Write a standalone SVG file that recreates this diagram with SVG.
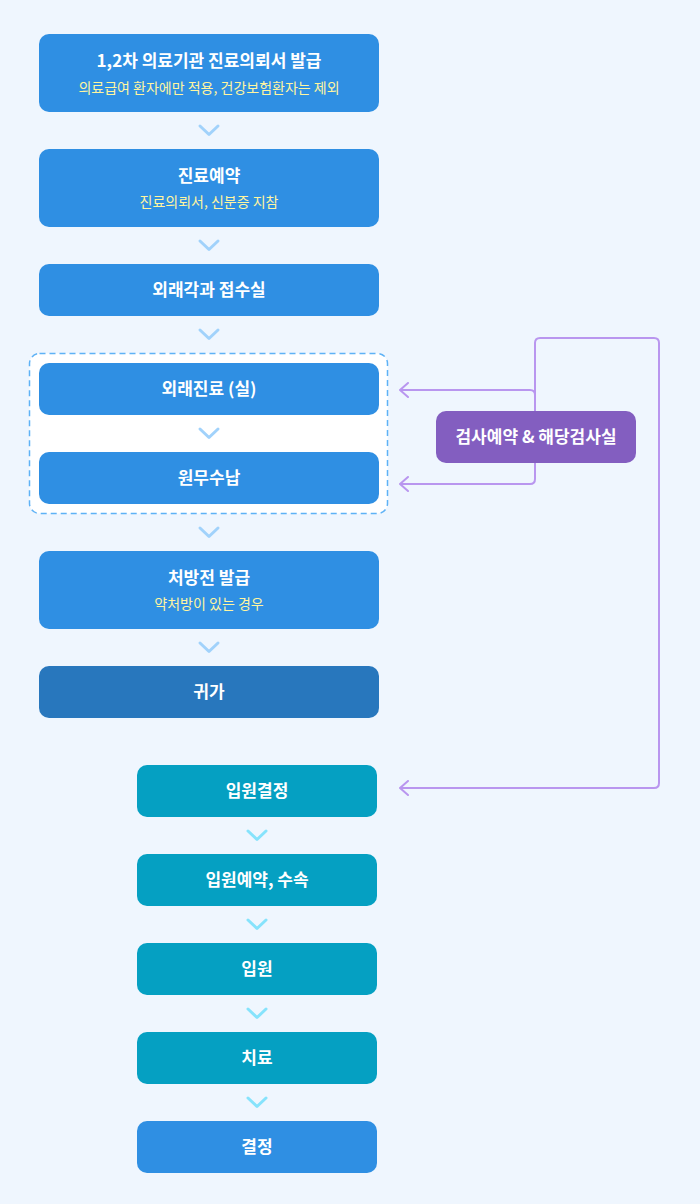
<svg xmlns="http://www.w3.org/2000/svg" width="700" height="1204" viewBox="0 0 700 1204">
<defs>
<style>
.t{font-family:"Noto Sans CJK KR","Noto Sans",sans-serif;font-size:17px;font-weight:700;fill:#ffffff;text-anchor:middle}
.s{font-family:"Noto Sans CJK KR","Noto Sans",sans-serif;font-size:14px;font-weight:400;fill:#fff5a0;text-anchor:middle}
.b{fill:#2f8fe3}
.d{fill:#2877bd}
.c{fill:#05a0c2}
.chb{fill:none;stroke:#a1d2fb;stroke-width:3;stroke-linecap:round;stroke-linejoin:round}
.chc{fill:none;stroke:#86e3fc;stroke-width:3;stroke-linecap:round;stroke-linejoin:round}
.p{fill:none;stroke:#b996ef;stroke-width:2}
</style>
<marker id="ah" viewBox="0 0 10 16" refX="9" refY="8" markerWidth="10" markerHeight="16" markerUnits="userSpaceOnUse" orient="auto-start-reverse">
<path d="M1 1 L9 8 L1 15" fill="none" stroke="#b996ef" stroke-width="2" stroke-linecap="round" stroke-linejoin="round"/>
</marker>
</defs>
<rect width="700" height="1204" fill="#eff6fe"/>
<rect x="29.5" y="353.5" width="358" height="160" rx="10" fill="#ffffff" stroke="#5eb2f6" stroke-width="1.5" stroke-dasharray="6 4"/>
<g id="connectors">
<path class="chb" d="M200 126 L209 134.5 L218 126"/>
<path class="chb" d="M200 241 L209 249.5 L218 241"/>
<path class="chb" d="M200 330 L209 338.5 L218 330"/>
<path class="chb" d="M200 429 L209 437.5 L218 429"/>
<path class="chb" d="M200 528 L209 536.5 L218 528"/>
<path class="chb" d="M200 643 L209 651.5 L218 643"/>
<path class="chc" d="M248 831 L257 839.5 L266 831"/>
<path class="chc" d="M248 920 L257 928.5 L266 920"/>
<path class="chc" d="M248 1009 L257 1017.5 L266 1009"/>
<path class="chc" d="M248 1098 L257 1106.5 L266 1098"/>
<path class="p" d="M400 390 H530 Q535 390 535 395 V479 Q535 484 530 484 H400" marker-start="url(#ah)" marker-end="url(#ah)"/>
<path class="p" d="M535 395 V343 Q535 338 540 338 H654 Q659 338 659 343 V783 Q659 788 654 788 H400" marker-end="url(#ah)"/>
</g>
<g id="n1"><rect class="b" x="39" y="34" width="340" height="78" rx="10"/><text class="t" x="209" y="67">1,2차 의료기관 진료의뢰서 발급</text><text class="s" x="209" y="93">의료급여 환자에만 적용, 건강보험환자는 제외</text></g>
<g id="n2"><rect class="b" x="39" y="149" width="340" height="78" rx="10"/><text class="t" x="209" y="182">진료예약</text><text class="s" x="209" y="207">진료의뢰서, 신분증 지참</text></g>
<g id="n3"><rect class="b" x="39" y="264" width="340" height="52" rx="10"/><text class="t" x="209" y="296">외래각과 접수실</text></g>
<g id="n4"><rect class="b" x="39" y="363" width="340" height="52" rx="10"/><text class="t" x="209" y="395">외래진료 (실)</text></g>
<g id="n5"><rect class="b" x="39" y="452" width="340" height="52" rx="10"/><text class="t" x="209" y="484">원무수납</text></g>
<g id="n6"><rect class="b" x="39" y="551" width="340" height="78" rx="10"/><text class="t" x="209" y="584">처방전 발급</text><text class="s" x="209" y="609">약처방이 있는 경우</text></g>
<g id="n7"><rect class="d" x="39" y="666" width="340" height="52" rx="10"/><text class="t" x="209" y="698">귀가</text></g>
<g id="n8"><rect x="436" y="411" width="200" height="52" rx="10" fill="#835ec0"/><text class="t" x="536" y="443">검사예약 &amp; 해당검사실</text></g>
<g id="n9"><rect class="c" x="137" y="765" width="240" height="52" rx="10"/><text class="t" x="257" y="797">입원결정</text></g>
<g id="n10"><rect class="c" x="137" y="854" width="240" height="52" rx="10"/><text class="t" x="257" y="886">입원예약, 수속</text></g>
<g id="n11"><rect class="c" x="137" y="943" width="240" height="52" rx="10"/><text class="t" x="257" y="975">입원</text></g>
<g id="n12"><rect class="c" x="137" y="1032" width="240" height="52" rx="10"/><text class="t" x="257" y="1064">치료</text></g>
<g id="n13"><rect class="b" x="137" y="1121" width="240" height="52" rx="10"/><text class="t" x="257" y="1153">결정</text></g>
</svg>
